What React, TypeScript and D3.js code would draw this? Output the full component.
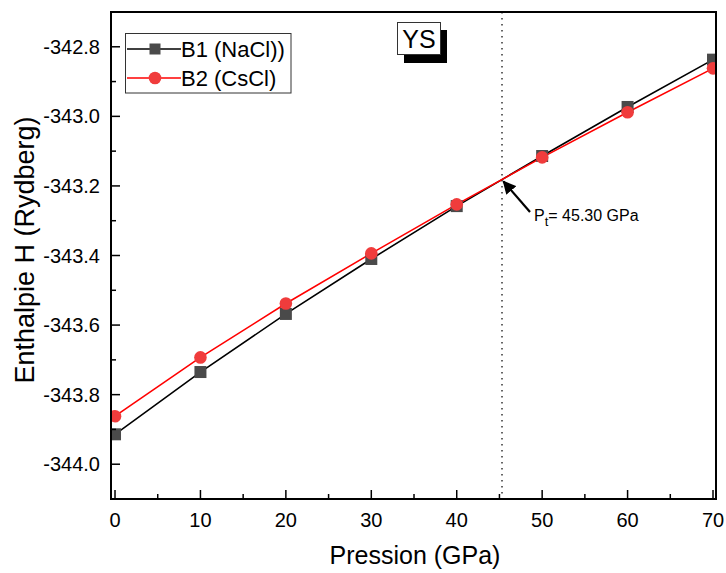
import React from "react";
import * as d3 from "d3";

const pressures = [0, 10, 20, 30, 40, 50, 60, 70];
const b1Values = [-343.914, -343.735, -343.568, -343.41, -343.258, -343.114, -342.973, -342.837];
const b2Values = [-343.862, -343.693, -343.538, -343.394, -343.253, -343.118, -342.988, -342.862];
const xTicks = [0, 10, 20, 30, 40, 50, 60, 70];
const yTicks = [-344.0, -343.8, -343.6, -343.4, -343.2, -343.0, -342.8];
const transitionP = 45.3;
const transitionH = -343.183;

const W = 726, H = 573;
const L = 111, R = 716, T = 12, B = 499;

export default function App() {
  const x = d3.scaleLinear().domain([-0.47, 70.35]).range([L, R]);
  const y = d3.scaleLinear().domain([-344.1, -342.7]).range([B, T]);
  const line = d3.line<[number, number]>().x(d => x(d[0])).y(d => y(d[1]));
  const b1 = pressures.map((p, i) => [p, b1Values[i]] as [number, number]);
  const b2 = pressures.map((p, i) => [p, b2Values[i]] as [number, number]);
  const xMinor = d3.range(5, 70, 10);
  const yMinor = d3.range(-344.1, -342.69, 0.2).map(v => +v.toFixed(2));
  const font = "Liberation Sans, Arial, sans-serif";
  const px = x(transitionP), py = y(transitionH);
  return (
    <svg width={W} height={H} style={{ position: "absolute", left: 0, top: 0 }} fontFamily={font}>
      <defs>
        <clipPath id="plot"><rect x={L} y={T} width={R - L} height={B - T} /></clipPath>
        <marker id="arr" viewBox="0 0 10 10" refX="9" refY="5" markerWidth="6" markerHeight="6" orient="auto">
          <path d="M0,0 L10,5 L0,10 Z" fill="#000" />
        </marker>
      </defs>
      <rect width={W} height={H} fill="#fff" />
      <line x1={px} x2={px} y1={T} y2={B} stroke="#333" strokeWidth={1.5} strokeDasharray="1.5,4.5" />
      <g clipPath="url(#plot)">
        <path d={line(b1) || ""} fill="none" stroke="#000" strokeWidth={1.6} />
        <path d={line(b2) || ""} fill="none" stroke="#ff0000" strokeWidth={1.6} />
        {b1.map((d, i) => (
          <rect key={"s" + i} x={x(d[0]) - 6} y={y(d[1]) - 6} width={12} height={12} fill="#4a4a4a" />
        ))}
        {b2.map((d, i) => (
          <circle key={"c" + i} cx={x(d[0])} cy={y(d[1])} r={6.3} fill="#f03c3c" />
        ))}
      </g>
      <rect x={L} y={T} width={R - L} height={B - T} fill="none" stroke="#000" strokeWidth={2} />
      {xTicks.map(t => (
        <g key={"xt" + t}>
          <line x1={x(t)} x2={x(t)} y1={B} y2={B - 9} stroke="#000" strokeWidth={1.5} />
          <text x={x(t)} y={B + 28} fontSize={20} textAnchor="middle">{t}</text>
        </g>
      ))}
      {xMinor.map(t => (
        <line key={"xm" + t} x1={x(t)} x2={x(t)} y1={B} y2={B - 5} stroke="#000" strokeWidth={1.5} />
      ))}
      {yTicks.map(t => (
        <g key={"yt" + t}>
          <line x1={L} x2={L + 9} y1={y(t)} y2={y(t)} stroke="#000" strokeWidth={1.5} />
          <text x={L - 11} y={y(t) + 7} fontSize={20} textAnchor="end">{t.toFixed(1)}</text>
        </g>
      ))}
      {yMinor.map(t => (
        <line key={"ym" + t} x1={L} x2={L + 5} y1={y(t)} y2={y(t)} stroke="#000" strokeWidth={1.5} />
      ))}
      <text x={415} y={564} fontSize={25} textAnchor="middle">Pression (GPa)</text>
      <text transform={`translate(34,${250}) rotate(-90)`} fontSize={27} textAnchor="middle">Enthalpie H (Rydberg)</text>
      <rect x={125.5} y={33.5} width={165.5} height={59.5} fill="#fff" stroke="#333" strokeWidth={1} />
      <line x1={127} x2={181} y1={49} y2={49} stroke="#000" strokeWidth={1.6} />
      <rect x={149.5} y={43.5} width={11} height={11} fill="#4a4a4a" />
      <text x={181} y={57} fontSize={22}>B1 (NaCl))</text>
      <line x1={127} x2={181} y1={78} y2={78} stroke="#ff0000" strokeWidth={1.6} />
      <circle cx={155} cy={78} r={6.3} fill="#f03c3c" />
      <text x={181} y={86} fontSize={22}>B2 (CsCl)</text>
      <rect x={404} y={30} width={43} height={33} fill="#000" />
      <rect x={397.5} y={22.5} width={43} height={32} fill="#fff" stroke="#333" strokeWidth={1} />
      <text x={419} y={48} fontSize={25} textAnchor="middle">YS</text>
      <line x1={530} x2={px + 1.5} y1={212} y2={py + 1.5} stroke="#000" strokeWidth={2.2} markerEnd="url(#arr)" />
      <text x={534} y={221} fontSize={16}>P<tspan fontSize={13} dy={5}>t</tspan><tspan dy={-5}>= 45.30 GPa</tspan></text>
    </svg>
  );
}
